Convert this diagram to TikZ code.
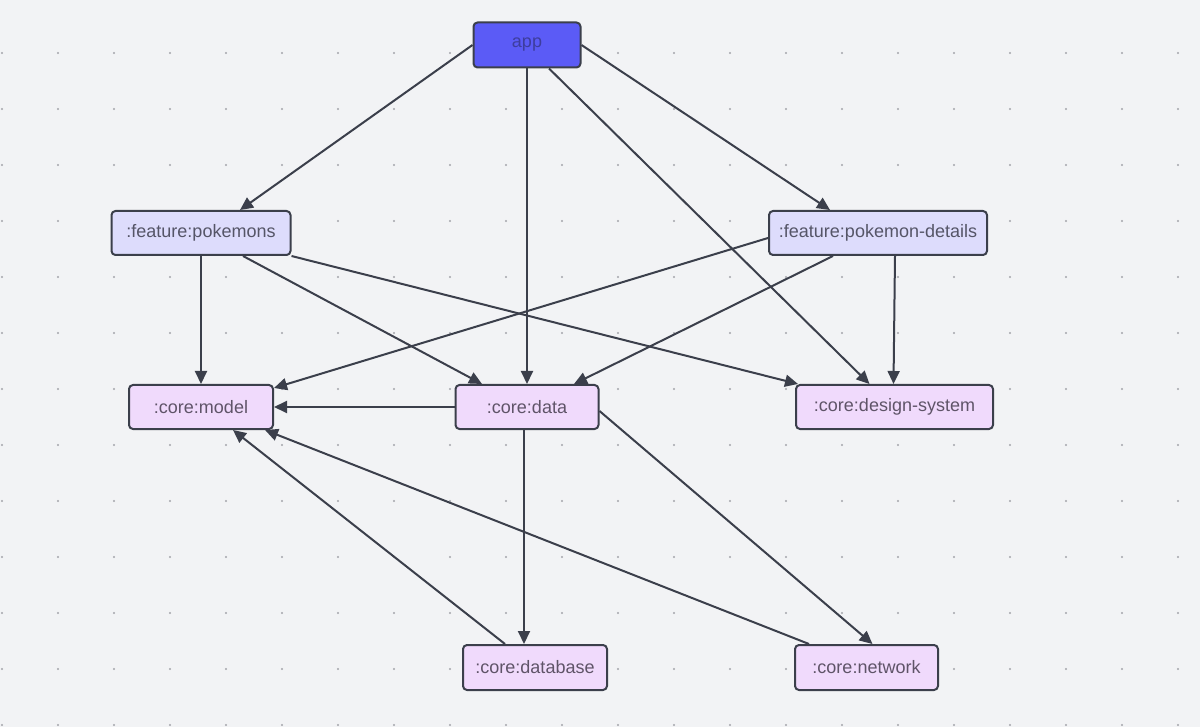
\documentclass[tikz,border=0pt]{standalone}
\usepackage{fontspec}
\setmainfont{Liberation Sans}
\usetikzlibrary{arrows.meta}
\definecolor{canvas}{HTML}{F2F3F5}
\definecolor{griddot}{HTML}{A3A5AA}
\definecolor{edgeline}{HTML}{3B3F4B}
\definecolor{appfill}{HTML}{5B5BF6}
\definecolor{featfill}{HTML}{DDDCFC}
\definecolor{corefill}{HTML}{F0DAFC}
\definecolor{apptext}{HTML}{3D3D9E}
\definecolor{feattext}{HTML}{555567}
\definecolor{coretext}{HTML}{5F5468}
\tikzset{
  module/.style={draw=edgeline,line width=2pt,rounded corners=4pt,inner sep=0pt,
    minimum height=44pt,font=\fontsize{18}{22}\selectfont},
  appbox/.style={module,fill=appfill,text=apptext},
  featbox/.style={module,fill=featfill,text=feattext},
  corebox/.style={module,fill=corefill,text=coretext},
  dep/.style={draw=edgeline,line width=2pt,-{Triangle[length=13pt,width=12pt]}}
}
\begin{document}
\begin{tikzpicture}[x=1pt,y=-1pt]
  \fill[canvas] (0,0) rectangle (1200,727);
  \useasboundingbox (0,0) rectangle (1200,727);
  \foreach \x in {0,...,21}
    \foreach \y in {0,...,12}
      \fill[griddot] (2+56*\x,53+56*\y) circle (1.1pt);
  \node[appbox,minimum width=107pt,minimum height=45pt] (app) at (527,45) {app};
  \node[featbox,minimum width=179pt] (fp) at (201,233) {:feature:pokemons};
  \node[featbox,minimum width=218pt] (fd) at (878,233) {:feature:pokemon-details};
  \node[corebox,minimum width=144pt] (model) at (201,407) {:core:model};
  \node[corebox,minimum width=143pt] (data) at (527,407) {:core:data};
  \node[corebox,minimum width=197pt] (ds) at (894.5,407) {:core:design-system};
  \node[corebox,minimum width=144pt,minimum height=45pt] (db) at (535,667.5) {:core:database};
  \node[corebox,minimum width=143pt,minimum height=45pt] (net) at (866.5,667.5) {:core:network};
  \draw[dep] (app.west) -- ([xshift=39pt]fp.north);
  \draw[dep] (app.east) -- ([xshift=-48pt]fd.north);
  \draw[dep] (app.south) -- (data.north);
  \draw[dep] ([xshift=22pt]app.south) -- ([xshift=-25pt]ds.north);
  \draw[dep] (fp.south) -- (model.north);
  \draw[dep] ([xshift=42pt]fp.south) -- ([xshift=-45pt]data.north);
  \draw[dep] (fp.south east) -- ([xshift=3pt]ds.north west);
  \draw[dep] ([yshift=-5pt]fd.west) -- ([yshift=19pt]model.east);
  \draw[dep] ([xshift=-45pt]fd.south) -- ([xshift=47pt]data.north);
  \draw[dep] ([xshift=17pt]fd.south) -- ([xshift=-1pt]ds.north);
  \draw[dep] (data.west) -- (model.east);
  \draw[dep] ([xshift=-3pt]data.south) -- ([xshift=-11pt]db.north);
  \draw[dep] ([yshift=-4pt]data.east) -- ([xshift=6pt]net.north);
  \draw[dep] ([xshift=-30pt]db.north) -- ([xshift=32pt]model.south);
  \draw[dep] ([xshift=15pt]net.north west) -- ([xshift=64pt]model.south);
\end{tikzpicture}
\end{document}
